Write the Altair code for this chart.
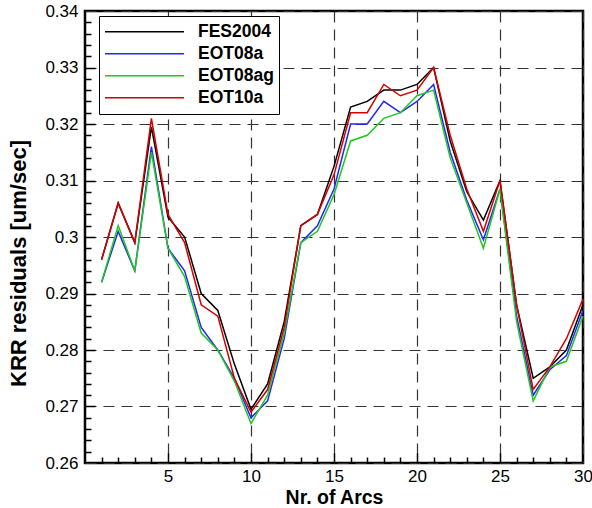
import altair as alt
import pandas as pd

arcs = list(range(1, 31))
fes2004 = [0.296, 0.306, 0.299, 0.3195, 0.3035, 0.300, 0.290, 0.287, 0.2775, 0.2695,
           0.274, 0.285, 0.302, 0.304, 0.3125, 0.323, 0.324, 0.326, 0.326, 0.327,
           0.330, 0.317, 0.308, 0.303, 0.310, 0.288, 0.275, 0.277, 0.280, 0.288]
eot08a = [0.292, 0.301, 0.294, 0.316, 0.298, 0.294, 0.284, 0.280, 0.275, 0.268,
          0.271, 0.282, 0.299, 0.302, 0.3085, 0.320, 0.320, 0.324, 0.322, 0.324,
          0.327, 0.315, 0.3065, 0.2995, 0.3085, 0.286, 0.272, 0.2765, 0.279, 0.287]
eot08ag = [0.292, 0.302, 0.294, 0.315, 0.298, 0.293, 0.283, 0.280, 0.2745, 0.267,
           0.272, 0.283, 0.299, 0.301, 0.3075, 0.317, 0.318, 0.321, 0.322, 0.325,
           0.326, 0.314, 0.306, 0.298, 0.3085, 0.285, 0.271, 0.277, 0.278, 0.286]
eot10a = [0.296, 0.306, 0.299, 0.321, 0.304, 0.299, 0.288, 0.286, 0.275, 0.269,
          0.273, 0.284, 0.302, 0.304, 0.311, 0.322, 0.322, 0.327, 0.325, 0.326,
          0.330, 0.318, 0.3085, 0.301, 0.310, 0.288, 0.273, 0.277, 0.282, 0.289]

series_names = ["FES2004", "EOT08a", "EOT08ag", "EOT10a"]
series_colors = ["#000000", "#2424ff", "#1ec81e", "#d40000"]

x_label_values = [5, 10, 15, 20, 25, 30]
y_label_values = [0.26, 0.27, 0.28, 0.29, 0.30, 0.31, 0.32, 0.33, 0.34]
x_tick_values = list(range(1, 30))
y_tick_values = [round(0.26 + 0.002 * i, 3) for i in range(1, 40)]

rows = []
for name, vals in zip(series_names, [fes2004, eot08a, eot08ag, eot10a]):
    for a, v in zip(arcs, vals):
        rows.append({"arcs": a, "krr": v, "series": name})
df = pd.DataFrame(rows)

FONT = "Liberation Sans"
W, H = 498, 452

xscale = alt.Scale(domain=[0, 30], nice=False, zero=False)
yscale = alt.Scale(domain=[0.26, 0.34], nice=False, zero=False)

lines = alt.Chart(df).mark_line(strokeWidth=1.5).encode(
    x=alt.X("arcs:Q", scale=xscale, axis=alt.Axis(
        values=x_label_values, ticks=False, tickSize=0, domain=False,
        grid=True, gridDash=[11, 7], gridColor="#333333", gridWidth=1.2,
        labelFont=FONT, labelFontSize=17, labelColor="black", labelPadding=5,
        labelFlush=False, labelOverlap=False,
        title="Nr. of Arcs", titleFont=FONT, titleFontSize=19.5, titleFontWeight="bold",
        titleColor="black", titleX=W / 2, titleY=40, titleBaseline="alphabetic")),
    y=alt.Y("krr:Q", scale=yscale, axis=alt.Axis(
        values=y_label_values, format=".2~f", ticks=False, tickSize=0, domain=False,
        grid=True, gridDash=[11, 7], gridColor="#333333", gridWidth=1.2,
        labelFont=FONT, labelFontSize=17, labelColor="black", labelPadding=7,
        labelFlush=False, labelOverlap=False,
        title="KRR residuals [um/sec]", titleFont=FONT, titleFontSize=22,
        titleFontWeight="bold", titleColor="black", titleX=-60, titleY=252,
        titleBaseline="alphabetic", titleAngle=270)),
    color=alt.Color("series:N", sort=series_names,
                    scale=alt.Scale(domain=series_names, range=series_colors),
                    legend=alt.Legend(
                        orient="none", legendX=14, legendY=5, title=None,
                        symbolType="stroke", symbolSize=6241, symbolStrokeWidth=1.5,
                        labelFont=FONT, labelFontSize=17.5, labelFontWeight="bold",
                        labelColor="black", labelOffset=13, clipHeight=21.5,
                        rowPadding=0, padding=5, strokeColor="black",
                        fillColor="white", cornerRadius=0)),
)

ticks_layer = alt.Chart(df).mark_line(strokeOpacity=0).encode(
    x=alt.X("arcs:Q", scale=xscale, title=None, axis=alt.Axis(
        orient="top", offset=-H, values=x_tick_values, labels=False, domain=False,
        grid=False, tickColor="black", tickWidth=1.5,
        tickSize={"condition": {"test": "datum.value % 5 === 0", "value": 10}, "value": 6})),
    y=alt.Y("krr:Q", scale=yscale, title=None, axis=alt.Axis(
        orient="right", offset=-W, values=y_tick_values, labels=False, domain=False,
        grid=False, tickColor="black", tickWidth=1.5,
        tickSize={"condition": {"test": "round(datum.value * 500) % 5 === 0", "value": 10}, "value": 6})),
    detail="series:N",
)

chart = alt.layer(lines, ticks_layer).resolve_axis(
    x="independent", y="independent"
).properties(
    width=W, height=H,
    autosize=alt.AutoSizeParams(type="none"),
    padding={"left": 85, "top": 11, "right": 9, "bottom": 45},
).configure_view(stroke="black", strokeWidth=2.5)

chart.save("out.html", embed_options={"renderer": "svg", "actions": False})
